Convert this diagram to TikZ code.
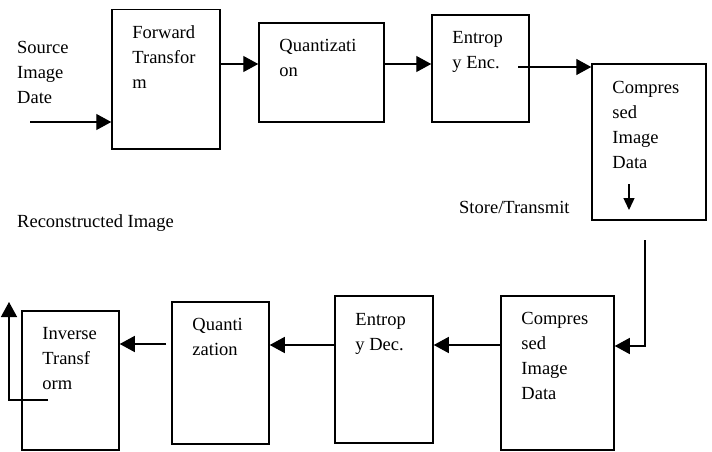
\documentclass[tikz,border=0pt]{standalone}
\usepackage{fontspec}
\setmainfont{Liberation Serif}
\usetikzlibrary{arrows.meta,positioning}

\begin{document}
\begin{tikzpicture}[x=1pt, y=-1pt,
        blk/.style={draw, line width=1.5pt, inner sep=0pt},
        txt/.style={anchor=north west, align=left, inner sep=0pt, font=\fontsize{18.5}{25}\selectfont},
        arr/.style={line width=1.4pt, -{Triangle[length=15pt,width=16pt]}}]
        \useasboundingbox (0,0) rectangle (712,452);

        % Blocchi compressione
        \node[blk, minimum width=108pt, minimum height=139.5pt] (fwd) at (166,79.3) {};
        \node[blk, minimum width=125pt, minimum height=99pt] (quantE) at (321.5,72.5) {};
        \node[blk, minimum width=97pt, minimum height=107pt] (entE) at (480.5,68.5) {};
        \node[blk, minimum width=114pt, minimum height=156pt] (compE) at (649,142) {};

        % Blocchi decompressione
        \node[blk, minimum width=113pt, minimum height=154pt] (compD) at (557.5,373) {};
        \node[blk, minimum width=98pt, minimum height=147pt] (entD) at (384,369.5) {};
        \node[blk, minimum width=97pt, minimum height=142pt] (quantD) at (220.5,373) {};
        \node[blk, minimum width=97pt, minimum height=139pt] (inv) at (70.5,380.5) {};

        % Testi nei blocchi
        \node[txt] (fwdtxt) at ([xshift=21pt,yshift=-17pt]fwd.north west) {Forward\\Transfor\\m};
        \node[txt] (quantEtxt) at ([xshift=21pt,yshift=-17pt]quantE.north west) {Quantizati\\on};
        \node[txt] (entEtxt) at ([xshift=21pt,yshift=-16.5pt]entE.north west) {Entrop\\y Enc.};
        \node[txt] (compEtxt) at ([xshift=21pt,yshift=-17.5pt]compE.north west) {Compres\\sed\\Image\\Data};
        \node[txt] (compDtxt) at ([xshift=21pt,yshift=-16.5pt]compD.north west) {Compres\\sed\\Image\\Data};
        \node[txt] (entDtxt) at ([xshift=21pt,yshift=-17.5pt]entD.north west) {Entrop\\y Dec.};
        \node[txt] (quantDtxt) at ([xshift=21pt,yshift=-17pt]quantD.north west) {Quanti\\zation};
        \node[txt] (invtxt) at ([xshift=21pt,yshift=-17pt]inv.north west) {Inverse\\Transf\\orm};

        % Etichette libere
        \node[txt] (src) at (17,41) {Source\\Image\\Date};
        \node[txt] (store) at (459,201) {Store/Transmit};
        \node[txt] (recon) at (17,214) {Reconstructed Image};

        % Estremi liberi
        \coordinate (srcin) at (30,122);
        \coordinate (row1) at (240,64);
        \coordinate (encout) at (518,67);
        \coordinate (stdown) at (629,184);
        \coordinate (stend) at (629,210);
        \coordinate (lnktop) at (645,240);
        \coordinate (lnkbot) at (645,346);
        \coordinate (row3) at (470,345);
        \coordinate (qout) at (166,344);
        \coordinate (outin) at (48,400);
        \coordinate (outcorner) at (9,400);
        \coordinate (outend) at (9,302);

        % Frecce compressione
        \draw[arr] (srcin) -- (fwd.west |- srcin);
        \draw[arr] (fwd.east |- row1) -- (quantE.west |- row1);
        \draw[arr] (quantE.east |- row1) -- (entE.west |- row1);
        \draw[arr] (encout) -- (compE.west |- encout);
        \draw[line width=1.4pt, -{Triangle[length=12pt,width=11pt]}] (stdown) -- (stend);

        % Frecce decompressione
        \draw[arr] (lnktop) -- (lnkbot) -- (compD.east |- lnkbot);
        \draw[arr] (compD.west |- row3) -- (entD.east |- row3);
        \draw[arr] (entD.west |- row3) -- (quantD.east |- row3);
        \draw[arr] (qout) -- (inv.east |- qout);
        \draw[arr] (outin) -- (outcorner) -- (outend);
\end{tikzpicture}
\end{document}
